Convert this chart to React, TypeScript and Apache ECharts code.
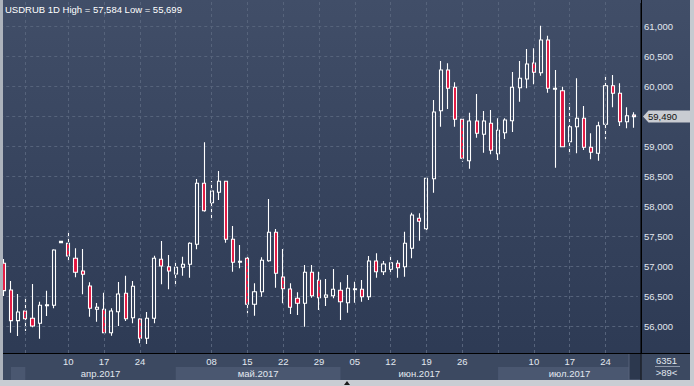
import React, { useEffect, useRef } from 'react';
import * as echarts from 'echarts';

const titleText = 'USDRUB 1D High = 57,584 Low = 55,699';
const volumeText = '6351';
const lastPrice = 59490;

const dates = [
  '03-28', '03-29', '03-30', '03-31',
  '04-03', '04-04', '04-05', '04-06', '04-07',
  '04-10', '04-11', '04-12', '04-13', '04-14',
  '04-17', '04-18', '04-19', '04-20', '04-21',
  '04-24', '04-25', '04-26', '04-27', '04-28',
  '05-01', '05-02', '05-03', '05-04', '05-05',
  '05-08', '05-09', '05-10', '05-11', '05-12',
  '05-15', '05-16', '05-17', '05-18', '05-19',
  '05-22', '05-23', '05-24', '05-25', '05-26',
  '05-29', '05-30', '05-31', '06-01', '06-02',
  '06-05', '06-06', '06-07', '06-08', '06-09',
  '06-12', '06-13', '06-14', '06-15', '06-16',
  '06-19', '06-20', '06-21', '06-22', '06-23',
  '06-26', '06-27', '06-28', '06-29', '06-30',
  '07-03', '07-04', '07-05', '07-06', '07-07',
  '07-10', '07-11', '07-12', '07-13', '07-14',
  '07-17', '07-18', '07-19', '07-20', '07-21',
  '07-24', '07-25', '07-26', '07-27', '07-28',
];

const opens = [
  57045, 56600, 56089, 56250, 56128, 56045, 56340, 56345, 57390, 57378,
  57128, 56917, 56667, 56278, 56278, 55888, 56238, 56545, 56138, 56117,
  55795, 56128, 57112, 56988, 56867, 56978, 57028, 57362, 58378, 58055,
  58228, 58412, 57445, 57062, 57128, 56362, 56572, 57088, 57562, 56817,
  56617, 56462, 56378, 56895, 56762, 56478, 56505, 56595, 56388, 56605,
  56612, 56488, 57083, 56905, 56945, 57045, 56988, 57295, 57795, 57622,
  58455, 59588, 60267, 59978, 59445, 58755, 59417, 59195, 59378, 58872,
  59222, 59422, 59972, 60117, 60383, 60222, 60767, 59945, 59922, 59072,
  59322, 59462, 58978, 58878, 59362, 60005, 59878, 59405, 59515,
];
const closes = [
  56589, 56089, 56233, 56122, 56000, 56345, 56352, 57267, 57410, 57167,
  56895, 56862, 56295, 56312, 55888, 56250, 56533, 56122, 56662, 55795,
  56128, 57128, 57000, 56917, 56978, 57028, 57378, 58378, 57922, 58250,
  58412, 57445, 57062, 57078, 56362, 56572, 57095, 57562, 56878, 56622,
  56312, 56378, 56895, 56505, 56472, 56517, 56612, 56405, 56628, 56620,
  56488, 57083, 56905, 57033, 57055, 56972, 57378, 57850, 57745, 58462,
  59567, 60267, 59962, 59445, 58795, 59417, 59212, 59417, 58928, 59262,
  59433, 59978, 60128, 60367, 60228, 60767, 59962, 59962, 58988, 59322,
  59462, 58978, 58895, 59338, 60005, 59878, 59405, 59505, 59490,
];
const lows = [
  56500, 55888, 55833, 55917, 55978, 55788, 56167, 56295, 57390, 57072,
  56812, 56528, 56155, 56072, 55878, 55838, 56000, 56083, 56045, 55712,
  55699, 56045, 56695, 56612, 56667, 56838, 56805, 57278, 57905, 57755,
  58100, 57388, 56905, 56962, 56212, 56172, 56488, 57072, 56638, 56378,
  56200, 56183, 55988, 56472, 56267, 56333, 56462, 56100, 56222, 56388,
  56405, 56433, 56805, 56850, 56878, 56805, 56822, 57128, 57422, 57555,
  58222, 59322, 59617, 59322, 58738, 58622, 59138, 58888, 58862, 58767,
  59117, 59233, 59738, 59962, 60028, 60172, 59888, 58638, 58980, 58850,
  58878, 58933, 58778, 58755, 59112, 59645, 59333, 59295, 59305,
];
const highs = [
  57117, 56750, 56533, 56472, 56700, 56405, 56588, 57280, 57410, 57584,
  57295, 57283, 56728, 56383, 56555, 56295, 56733, 56838, 56750, 56130,
  56233, 57172, 57417, 57183, 57062, 57155, 57395, 58450, 59062, 58417,
  58583, 58420, 57667, 57350, 57183, 56712, 57145, 58117, 57617, 57283,
  56712, 56562, 57017, 57017, 56905, 56783, 56950, 56728, 56850, 56738,
  56767, 57167, 57212, 57083, 57183, 57095, 57572, 57888, 57878, 58470,
  59767, 60417, 60378, 60062, 59500, 59555, 59867, 59583, 59600, 59462,
  59462, 60233, 60417, 60617, 60628, 61005, 60838, 60267, 59988, 59712,
  60128, 59667, 59212, 59405, 60200, 60183, 60045, 59645, 59562,
];

const dayTickDates = ['04-10', '04-17', '04-24', '05-08', '05-15', '05-22', '05-29',
  '06-05', '06-12', '06-19', '06-26', '07-10', '07-17', '07-24'];
const gridDates = ['03-31', '04-10', '04-17', '04-24', '05-01', '05-08', '05-15', '05-22',
  '05-29', '06-05', '06-12', '06-19', '06-26', '07-03', '07-10', '07-17', '07-24'];
const monthLabels = ['апр.2017', 'май.2017', 'июн.2017', 'июл.2017'];
const monthStarts = ['03-31', '05-01', '06-01', '07-03'];
const marchBandStart = '03-29';

const FONT = '"Liberation Sans", Arial, sans-serif';
const LABEL = '#e2e8f0';
const GRID = '#56637b';
const RED = '#e3123d';

export default function App() {
  const ref = useRef<HTMLDivElement>(null);
  useEffect(() => {
    document.body.style.margin = '0';
    const chart = echarts.init(ref.current!, null, { renderer: 'svg', width: 694, height: 386 });
    const dayIdx = new Set(dayTickDates);
    chart.setOption({
      animation: false,
      backgroundColor: 'transparent',
      grid: { left: 0.25, right: 56.25, top: -4, bottom: 30, containLabel: false, outerBoundsMode: 'none' },
      xAxis: {
        type: 'category',
        data: dates,
        boundaryGap: true,
        z: 3,
        axisLine: { show: false },
        axisTick: { show: false },
        splitLine: { show: false },
        axisLabel: {
          interval: (_i: number, v: string) => dayIdx.has(v),
          formatter: (v: string) => v.slice(3),
          color: LABEL,
          fontSize: 9.5,
          fontFamily: FONT,
          margin: 0.5,
        },
      },
      yAxis: {
        type: 'value',
        position: 'right',
        offset: 3.25,
        min: 55500,
        max: 61500,
        interval: 500,
        axisLine: { show: true, lineStyle: { color: '#000', width: 1 } },
        axisTick: { show: false },
        splitLine: { show: true, lineStyle: { color: GRID, type: [3, 3], width: 1 } },
        axisLabel: {
          showMinLabel: false,
          showMaxLabel: false,
          margin: 3,
          color: LABEL,
          fontSize: 9.5,
          fontFamily: FONT,
          // the current-price tag covers the tick label nearest to it
          formatter: (v: number) => (Math.abs(v - lastPrice) < 250 ? '' : v.toLocaleString('en-US')),
        },
      },
      series: [
        {
          type: 'candlestick',
          data: dates.map((_, i) => [opens[i], closes[i], lows[i], highs[i]]),
          barWidth: 3.6,
          itemStyle: {
            color: 'rgba(0,0,0,0)',
            color0: RED,
            borderColor: '#ffffff',
            borderColor0: '#ffffff',
            borderColorDoji: '#ffffff',
            borderWidth: 1.1,
          },
          emphasis: { disabled: true },
          markLine: {
            silent: true,
            symbol: ['none', 'none'],
            label: { show: false },
            emphasis: { disabled: true },
            lineStyle: { color: GRID, type: [3, 3], width: 1 },
            data: gridDates.map((d) => [{ coord: [d, 61500] }, { coord: [d, 55550] }]),
          },
        },
      ],
    });

    const px = (d: string) => chart.convertToPixel({ xAxisIndex: 0 }, d) as number;
    const py = (v: number) => chart.convertToPixel({ yAxisIndex: 0 }, v) as number;
    const sepX = 641;
    const axisTop = 353.5;
    const axisBottom = 380;
    const starts = monthStarts.map(px);
    const ends = [starts[1], starts[2], starts[3], sepX];
    const yLast = py(lastPrice);

    const graphics: any[] = [
      { type: 'rect', z: 1, silent: true, shape: { x: 3, y: axisTop, width: 687, height: axisBottom - axisTop }, style: { fill: '#3c4961' } },
      { type: 'rect', z: 1, silent: true, shape: { x: px(marchBandStart), y: 367, width: starts[0] - px(marchBandStart), height: 13 }, style: { fill: '#4a5770' } },
      { type: 'rect', z: 1, silent: true, shape: { x: starts[1], y: 367, width: ends[1] - starts[1], height: 13 }, style: { fill: '#4a5770' } },
      { type: 'rect', z: 1, silent: true, shape: { x: starts[3], y: 367, width: ends[3] - starts[3], height: 13 }, style: { fill: '#4a5770' } },
      { type: 'rect', z: 1, silent: true, shape: { x: 629, y: axisTop, width: sepX - 629, height: axisBottom - axisTop }, style: { fill: '#2c384e', stroke: '#56627a', lineWidth: 1 } },
      { type: 'line', z: 2, silent: true, shape: { x1: 3, y1: axisTop, x2: 690, y2: axisTop }, style: { stroke: '#000', lineWidth: 1 } },
      { type: 'line', z: 2, silent: true, shape: { x1: sepX, y1: 3, x2: sepX, y2: axisBottom }, style: { stroke: '#000', lineWidth: 1 } },
      ...monthLabels.map((m, i) => ({
        type: 'text', z: 4, silent: true,
        style: { x: (starts[i] + ends[i]) / 2, y: 373, text: m, fill: LABEL, font: `9.5px ${FONT}`, align: 'center', verticalAlign: 'middle' },
      })),
      { type: 'text', z: 4, silent: true, style: { x: 666.5, y: 360.5, text: volumeText, fill: LABEL, font: `9.5px ${FONT}`, align: 'center', verticalAlign: 'middle' } },
      { type: 'line', z: 4, silent: true, shape: { x1: 655, y1: 366.5, x2: 680, y2: 366.5 }, style: { stroke: '#8f99aa', lineWidth: 1 } },
      { type: 'text', z: 4, silent: true, style: { x: 666.5, y: 372.5, text: `>${dates.length}<`, fill: LABEL, font: `9.5px ${FONT}`, align: 'center', verticalAlign: 'middle' } },
      { type: 'polygon', z: 20, silent: true, shape: { points: [[643, yLast], [648.5, yLast - 6], [690, yLast - 6], [690, yLast + 6], [648.5, yLast + 6]] }, style: { fill: '#c9ccd2' } },
      { type: 'text', z: 21, silent: true, style: { x: 648, y: yLast, text: lastPrice.toLocaleString('en-US'), fill: '#111', font: `9.5px ${FONT}`, align: 'left', verticalAlign: 'middle' } },
      { type: 'text', z: 100, silent: true, style: { x: 5, y: 9.5, text: titleText, fill: '#ffffff', font: `9.5px ${FONT}`, align: 'left', verticalAlign: 'middle' } },
      { type: 'rect', z: 100, silent: true, shape: { x: 0, y: 0, width: 3, height: 386 }, style: { fill: '#adb3bc' } },
      { type: 'rect', z: 100, silent: true, shape: { x: 690, y: 0, width: 4, height: 386 }, style: { fill: '#c6cad0' } },
      { type: 'rect', z: 100, silent: true, shape: { x: 0, y: axisBottom, width: 694, height: 386 - axisBottom }, style: { fill: '#c9cdd3' } },
      { type: 'polygon', z: 101, silent: true, shape: { points: [[347, 381], [344, 385], [350, 385]] }, style: { fill: '#1a1a1a' } },
    ];
    chart.setOption({ graphic: graphics });

    return () => chart.dispose();
  }, []);

  return (
    <div
      ref={ref}
      style={{
        width: 694,
        height: 386,
        background: 'linear-gradient(to bottom, #414e68 0%, #36435d 50%, #2c3953 100%)',
      }}
    />
  );
}
